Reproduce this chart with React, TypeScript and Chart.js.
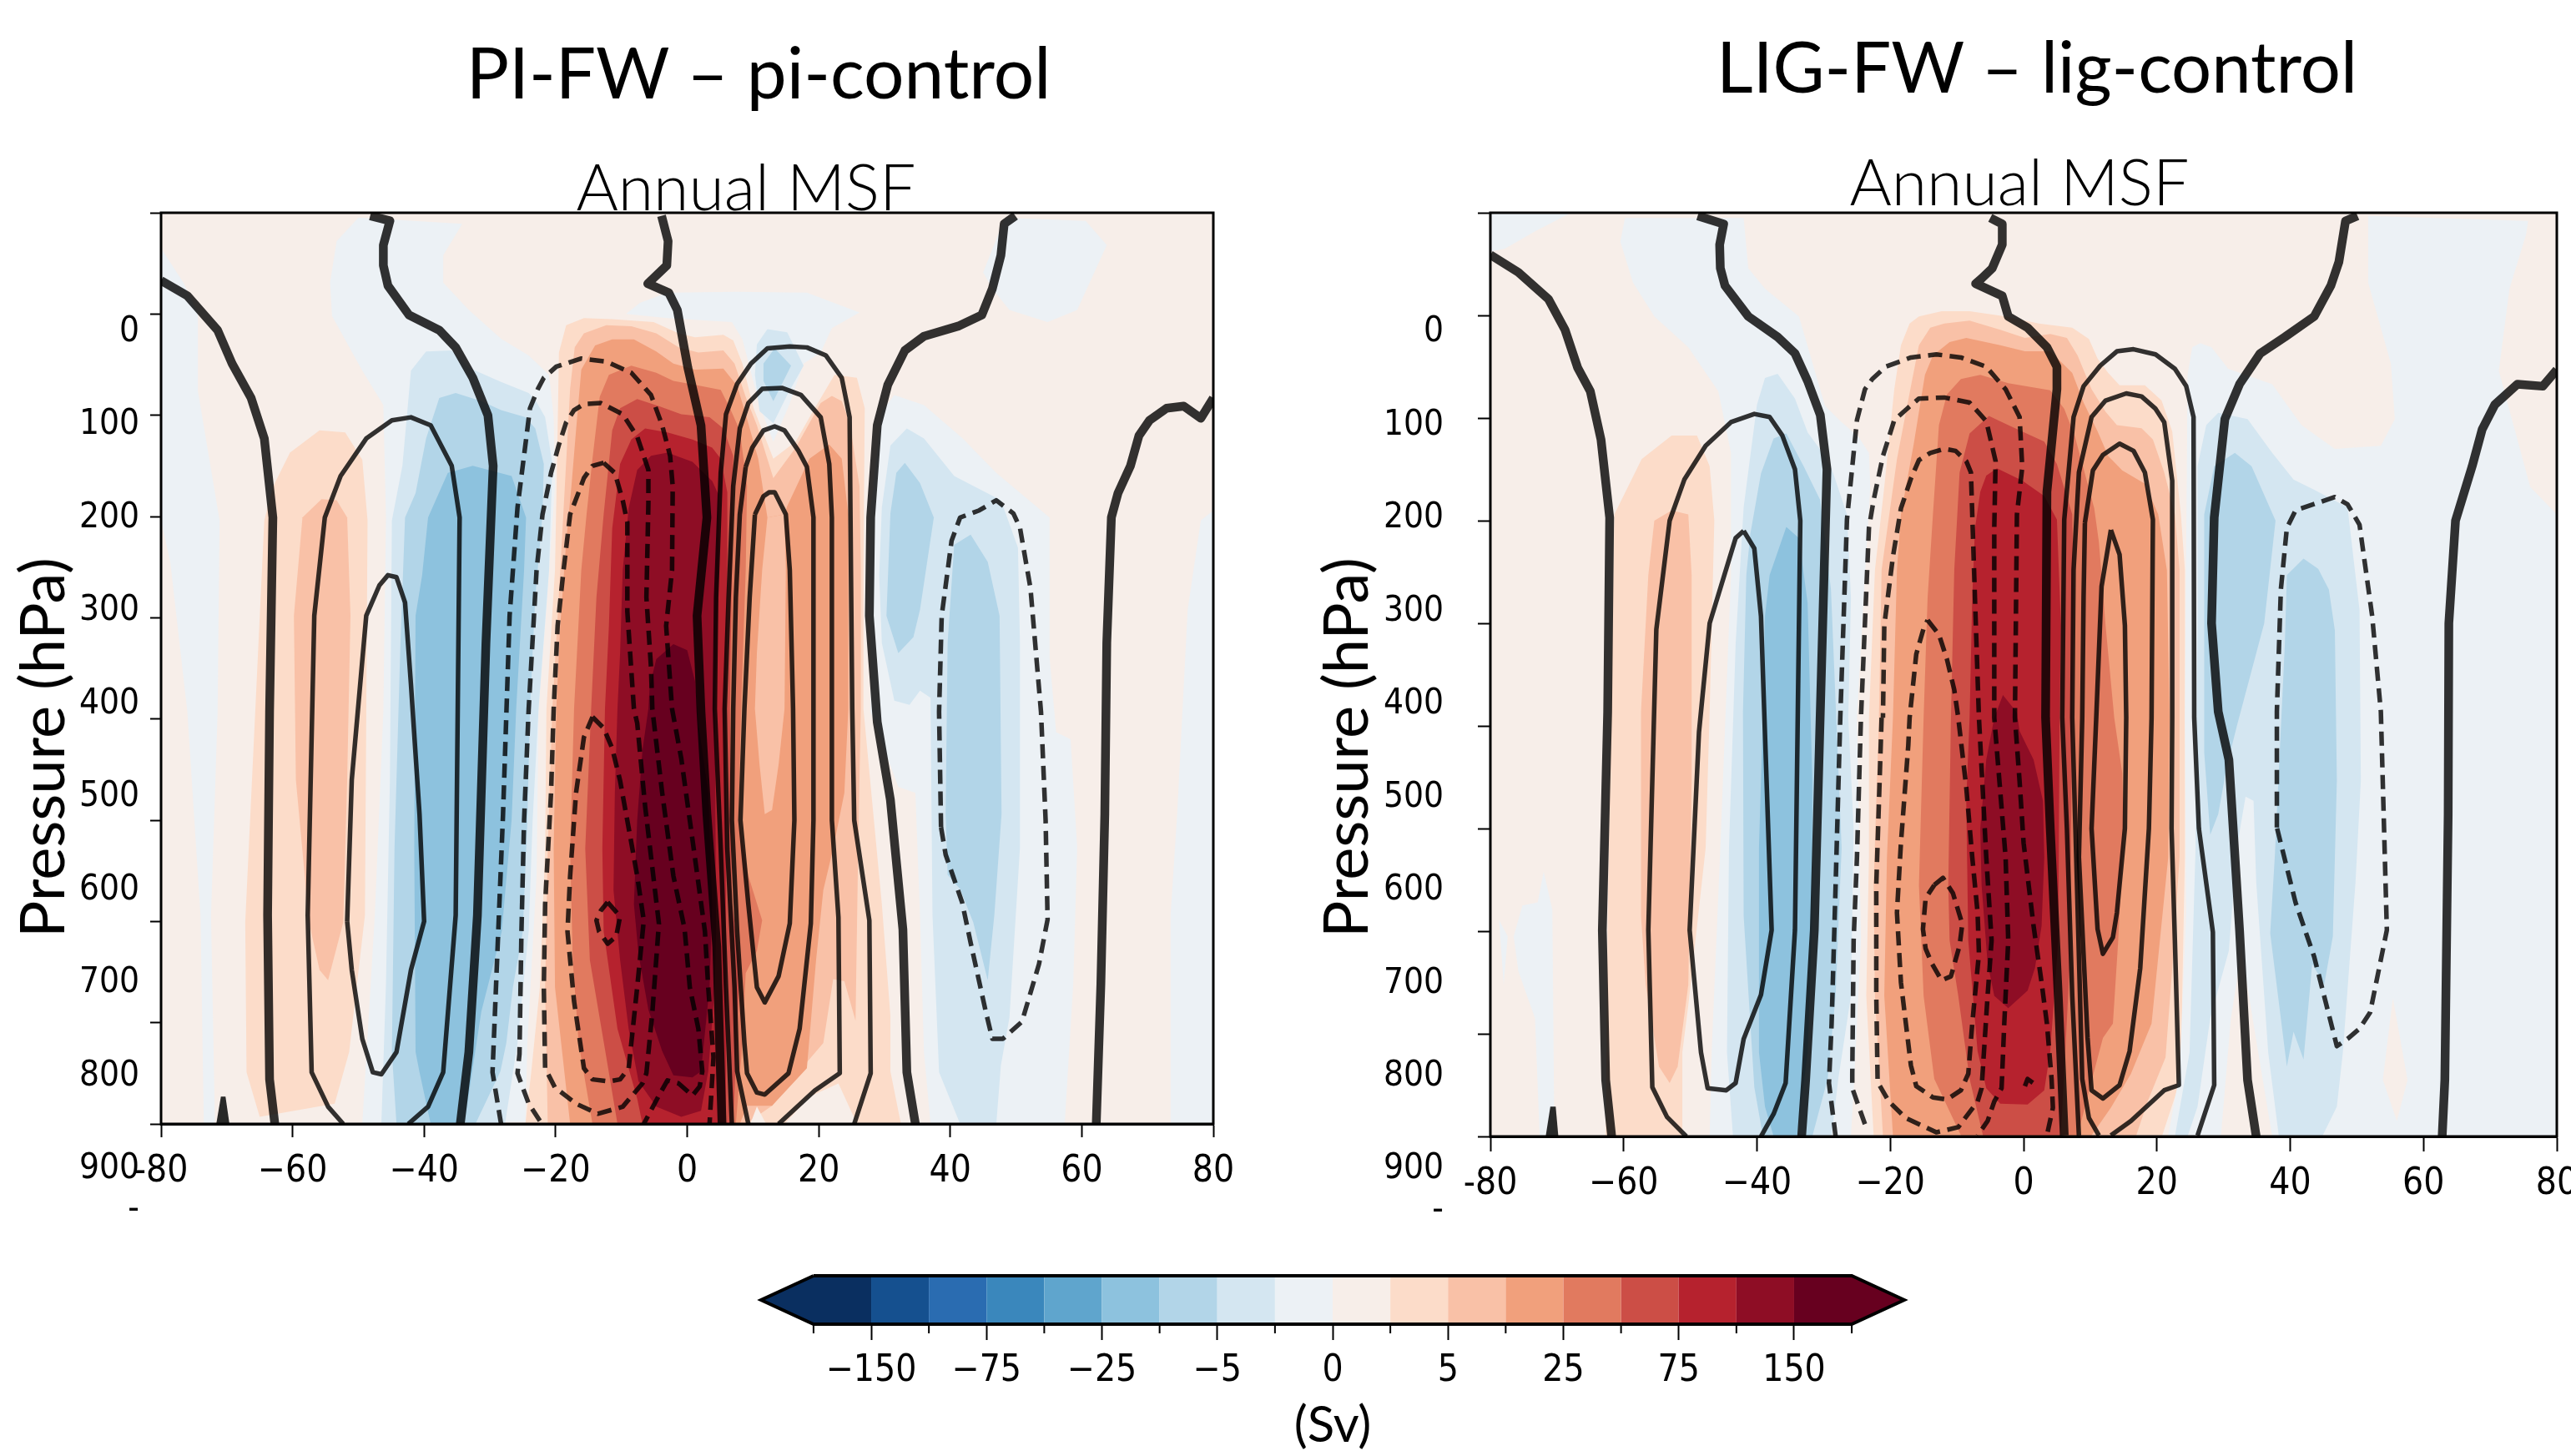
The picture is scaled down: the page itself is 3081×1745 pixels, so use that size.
import React, { useEffect, useRef } from 'react';
import { Chart, registerables } from 'chart.js';
Chart.register(...registerables);

type P = number[][];

// ---------- colour bands ----------
const bandColors = ['#0a2f60','#15508f','#2a6cb1','#3a87bc','#5fa5cd','#8dc2de','#b2d5e8','#d4e6f1','#ecf1f5','#f7eee9','#fcdcc9','#f9c1a7','#f1a07c','#e17a5f','#cc4e46','#b6222e','#8e0d25','#67001f'];
const colorbarLabels = ['', '−150', '', '−75', '', '−25', '', '−5', '', '0', '', '5', '', '25', '', '75', '', '150', ''];
const latTicks = [-80,-60,-40,-20,0,20,40,60,80];
const latTickLabels = ['-80','−60','−40','−20','0','20','40','60','80'];
const pressureLabelValues = [0,100,200,300,400,500,600,700,800,900,944];
const pressureLabels = ['0','100','200','300','400','500','600','700','800','900','-'];
const fullPanel: P = [[-80,0],[80,0],[80,900],[-80,900]];

// ---------- PI-FW : filled regions ----------
const pi10: P = [[-18.4,111],[-15.7,104],[-11.4,105],[-5.1,108],[-1.3,119],[1.2,123],[5.5,120.5],[7,126],[8.4,149],[10.1,193],[13.1,243],[16.5,226],[19.4,193],[22.4,160],[25.8,163],[27,193],[26.8,353],[26.8,490],[28,573],[29.6,683],[30.9,793],[30.9,848],[32.5,900],[-24.6,900],[-23.7,848],[-22.4,765],[-21.6,628],[-21.4,490],[-20.1,353],[-19.7,215],[-19.5,138]];
const pi11: P = [[-17.1,133],[-15.7,119],[-12.3,111],[-8.5,112],[-4.7,119],[-1.3,133],[1.7,138],[5.5,136],[7.2,149],[8.9,182],[10.6,210],[13.1,262],[16.5,232],[20.3,188],[22,181],[23.5,186],[24.7,207],[26.2,270],[26.4,353],[26.4,490],[26,628],[25.6,798],[23.9,759],[22.2,757],[20.7,820],[18.2,839],[12.9,882],[8.9,900],[-21.2,900],[-21.6,765],[-21.2,628],[-20.5,490],[-19.3,353],[-18.6,270],[-17.8,174]];
const pi12: P = [[-16.1,155],[-14,131],[-11.4,125],[-8.1,125],[-4.7,137],[-2.1,149],[1.2,155],[5.5,154],[7.6,171],[8.9,199],[10.8,243],[12.2,301],[14.8,298],[15.2,290],[18.6,243],[21.6,229],[23.5,243],[24.5,298],[24.5,490],[23.9,573],[22.2,628],[20.7,669],[19.6,738],[18.2,845],[12.9,882],[9.1,882],[8,900],[-17.8,900],[-20.1,765],[-20.3,628],[-19.9,490],[-19.3,408],[-18.4,325],[-17.6,270],[-16.9,215]];
const pi13: P = [[-13.3,182],[-11.9,160],[-8.5,151],[-4.7,158],[-2.1,166],[1.2,170],[5.1,175],[6.5,193],[8,215],[9.1,270],[8.9,353],[8.2,490],[7.8,600],[9.3,655],[11.4,699],[10.6,729],[8.9,751],[8.4,820],[7.4,900],[-14.4,900],[-16.5,820],[-17.4,738],[-17.8,628],[-17.2,490],[-16.1,353],[-15.3,298],[-14.4,243]];
const pi14: P = [[-11.4,215],[-10.2,193],[-7.6,184],[-4.3,191],[-0.9,199],[3.4,202],[5.5,213],[7,240],[6.8,353],[6.5,490],[6.8,683],[8,738],[7,900],[-10.6,900],[-12.3,834],[-14.8,738],[-15.5,628],[-14.6,490],[-13.8,380],[-12.7,298]];
const pi15: P = [[-10.2,248],[-8.5,224],[-6.4,213],[-3,217],[0.8,224],[3.8,232],[5.1,243],[6.1,276],[6.1,353],[5.9,490],[5.9,900],[-6.8,900],[-7.6,875],[-10.6,806],[-12.7,710],[-12.9,628],[-12.5,490],[-11.9,408],[-11.4,312]];
const pi16: P = [[-8.9,292],[-7.6,254],[-5.5,240],[-3,237],[0.8,246],[3.8,265],[4.8,279],[4.8,353],[4.2,490],[4.4,710],[4.2,765],[3.2,848],[2.1,887],[-0.9,893],[-4.7,883],[-7.4,858],[-8.9,806],[-10.2,738],[-11.2,669],[-11,573],[-10.6,490],[-10.2,435],[-9.8,353]];
const pi17: P = [[-5.7,468],[-4.7,441],[-2.1,426],[0,432],[1.2,463],[1.7,504],[3.2,573],[3.8,683],[3.4,765],[2.1,848],[0.8,854],[-2.1,852],[-3.8,828],[-5.9,787],[-7.4,732],[-8.1,683],[-7.6,600],[-6.8,531],[-5.9,490]];
const piCore11: P = [[12.2,301],[11.4,353],[10.6,435],[10.3,490],[11,545],[11.8,594],[12.9,590],[13.9,545],[14.8,490],[15,353],[14.8,298]];
const piPatch9a: P = [[23,860],[25.4,894],[25.4,900],[14.8,900],[18.6,873]];
const piPatch9b: P = [[10.6,883],[9.6,900],[12,900]];
const piWest10: P = [[-63,271],[-60.4,237],[-55.9,215],[-52,217],[-49.4,244],[-48.6,304],[-49,694],[-51.4,829],[-53.6,880],[-65,893],[-67,849],[-67.2,701],[-64.3,304]];
const piWest11: P = [[-58.5,301],[-55.6,283],[-53.3,284],[-51.7,301],[-51.2,398],[-51.7,560],[-52.3,701],[-54.6,758],[-55.9,748],[-57.5,701],[-59.5,560],[-59.8,398]];
const piPole8: P = [[-80,35],[-76.6,69],[-74.4,99],[-74.4,176],[-71.1,304],[-71.4,493],[-72.4,694],[-71.8,900],[-73.5,900],[-74,694],[-76,493],[-78.6,345],[-80,304]];
const piSouth8: P = [[-49.4,5],[-34.2,11],[-37.1,42],[-37.1,69],[-33.2,96],[-28.3,124.5],[-24.1,141],[-21,160],[-20.3,202],[-20.1,270],[-21,353],[-21.6,408],[-22.6,490],[-22.9,655],[-24.3,820],[-24.6,898],[-49.4,900],[-47.5,694],[-46.2,493],[-45.8,301],[-46.2,190],[-49.4,156],[-54,102],[-54.3,69],[-53.3,28],[-50,5]];
const piTop8: P = [[-9.3,100],[-7.2,89],[-3,79],[7.6,78],[18.2,79],[26.2,98.5],[22,114],[20.3,138],[17.7,149],[15.5,190],[13.1,226],[11,190],[8.4,125],[6.8,108],[-3,104]];
const piTop7: P = [[10.6,130],[12.2,115],[15.2,118],[17.7,151],[15.2,180],[13.1,208],[11,196],[10.3,160]];
const piTop6: P = [[11.6,149],[13.3,134],[15.8,151],[13.1,186],[11.6,166]];
const piSouth7: P = [[-42,156],[-39.7,137],[-35.8,136],[-33.2,153],[-28.3,167],[-24.1,178],[-22.9,187],[-21.6,202],[-20.5,248],[-21,353],[-22.6,490],[-23.5,600],[-24.1,710],[-25.8,820],[-27.7,900],[-46.5,900],[-45.8,762],[-45.2,560],[-44.9,304],[-43.3,250]];
const piSouth6: P = [[-39.7,223],[-37.7,183],[-35.2,178],[-31.3,186],[-28.3,195],[-24.6,202],[-23.1,213],[-21.8,248],[-22,298],[-23.1,380],[-23.9,490],[-24.3,600],[-25,710],[-26.5,765],[-27.5,820],[-28.4,848],[-32.2,900],[-44.2,900],[-44.9,829],[-44.5,627],[-43.6,425],[-42.9,301],[-41.3,277]];
const piSouth5: P = [[-39.4,301],[-36.4,257],[-32.6,250],[-26.7,260],[-24.5,301],[-24.8,353],[-26,490],[-26.7,600],[-28.2,710],[-31.3,789],[-33.9,900],[-39,900],[-40.7,849],[-41.3,829],[-41.5,627],[-41.3,398],[-40.3,358]];
const piNorth8: P = [[29.6,196],[31.5,180],[36,190],[41.9,223],[47,257],[55.1,301],[55.1,439],[56.1,513],[58.3,520],[59.3,627],[58.7,762],[57.4,900],[37,900],[36,829],[35.4,694],[34.7,573],[32.1,567],[27.9,493],[27.7,304]];
const piHigh8: P = [[48.3,5],[60.6,8],[63.8,32],[59.3,96],[54.8,108],[49,96],[46.4,75],[45,59]];
const piEdge8: P = [[80,294],[78.1,304],[76.1,392],[74.5,594],[73.5,694],[73.5,900],[80,900]];
const piNorth7: P = [[29.6,291],[30.9,230],[33.4,213],[36,223],[40.6,260],[47.7,284],[50.3,331],[50.6,425],[50.6,627],[49,795],[47.7,842],[47,900],[41.5,900],[38.3,849],[37.3,694],[37,479],[35.4,472],[33.8,486],[31.5,482],[29.6,425],[29.2,358]];
const piNorth6a: P = [[30.9,297],[31.8,257],[33.1,247],[35.4,267],[37.5,301],[35.4,392],[34.4,419],[32.1,435],[30.3,398]];
const piNorth6b: P = [[40.6,328],[43.1,318],[45.7,345],[47.5,398],[47.8,594],[46.7,694],[45.7,758],[43.5,701],[41.5,668],[39.6,654],[39.3,594],[39.6,425]];
const piSpike: P = [[-71.6,900],[-70.9,873],[-70.2,873],[-69.6,900]];

// ---------- PI-FW : contour lines ----------
const piZeroA: P = [[-80,67],[-76,82],[-71.4,116],[-69.2,149],[-66.3,183],[-64.3,223],[-63,301],[-63.5,493],[-63.8,694],[-63.5,856],[-62.7,900]];
const piZeroB: P = [[-48.2,3],[-45.2,8],[-46.2,32],[-46.2,52],[-45.5,72],[-42.3,101],[-37.7,116],[-35.2,133],[-32.6,163],[-30.3,200],[-29.5,250],[-30.6,425],[-31.9,694],[-33.2,829],[-34.5,900]];
const piZeroC: P = [[-3.9,3],[-2.9,28],[-3.1,52],[-6,70],[-2.8,79],[-1.5,96],[0.1,153],[2.1,210],[3,301],[1.5,398],[2.1,493],[3,594],[4.5,725],[5.3,900]];
const piZeroD: P = [[49.9,3],[48.2,11],[47.7,42],[46.4,75],[44.8,101],[41.2,112],[36,122],[33.1,136],[30.5,170],[28.9,210],[27.9,301],[27.7,398],[28.9,503],[30.9,580],[32.8,708],[33.4,849],[34.7,900]];
const piZeroE: P = [[80,183],[78.1,203],[75.5,191],[72.9,193],[70.3,205],[68.7,220],[67.4,250],[65.5,277],[64.5,301],[63.8,425],[63.5,594],[62.9,762],[62.2,900]];
const piSolidW1: P = [[-52.3,900],[-54.6,883],[-57.1,849],[-57.7,694],[-56.7,398],[-55.1,301],[-52.7,260],[-48.8,223],[-44.9,205],[-42,202],[-39,210],[-35.8,250],[-34.6,301],[-35.2,694],[-37.1,849],[-39.4,883],[-42.4,900]];
const piSolidW2: P = [[-51.7,700],[-51,560],[-48.8,398],[-46.8,368],[-45.5,358],[-44.2,360],[-42.9,385],[-42,466],[-40.7,594],[-40,700],[-42,748],[-44.2,829],[-46.5,851],[-47.8,849],[-49.4,816],[-51,748],[-51.7,700]];
const piSolid1: P = [[6.8,900],[5.9,765],[5.1,628],[4.2,490],[4.4,380],[5.1,257],[5.9,199],[7.6,169],[9.7,149],[12.2,134],[15.6,132],[18.2,133],[21.1,141],[23.5,163],[24.7,202],[24.9,353],[25.1,490],[25.4,600],[27.7,699],[27.9,850],[25.4,900]];
const piSolid2: P = [[9.3,900],[7.6,848],[7.2,765],[6.1,628],[5.7,490],[6.3,380],[7,270],[8,213],[9.3,188],[11.4,174],[14.4,173],[17.3,180],[20.3,202],[21.6,248],[22,301],[22,490],[22,600],[23,696],[23.2,850],[19.4,867],[13.9,900]];
const piSolid3: P = [[8.9,251],[9.9,232],[11.6,215],[13.3,211],[14.8,215],[16.9,235],[18.2,251],[19.2,301],[19.2,490],[19.2,600],[18.8,702],[17.1,806],[15.4,850],[11.8,871],[10.6,869],[9.1,850],[8.7,820],[7.6,710],[6.8,600],[7,490],[7.4,380],[8,298],[8.9,251]];
const piSolid4: P = [[10.3,298],[11.6,280],[12.5,276],[13.3,276],[15,298],[15.6,353],[16.1,490],[16.3,600],[15.6,702],[13.9,754],[11.8,780],[10.6,765],[9.3,683],[8.1,600],[8.7,490],[9.5,380],[10.3,298]];
const piDashA: P = [[-28.3,900],[-29.6,849],[-28,594],[-27,398],[-25.8,291],[-23.9,193],[-22.7,174],[-21.8,163],[-19.9,152],[-16.1,144],[-12.3,147],[-8.5,158],[-5.5,180],[-3.8,210],[-2.6,240],[-2.2,270],[-2.3,353],[-3.2,408],[-2.3,490],[-0.9,539],[0.8,619],[2.7,710],[3.2,765],[4,834],[3.4,900]];
const piDashB: P = [[-22.4,897],[-24.1,880],[-25.8,850],[-25.5,831],[-25.2,710],[-24.8,600],[-24.1,490],[-22.9,353],[-22,298],[-20.7,257],[-19.5,229],[-18.4,207],[-17.2,195],[-15.7,189],[-13.1,188],[-9.8,199],[-7.6,221],[-5.9,254],[-5.9,287],[-6.2,380],[-5.5,449],[-5.3,490],[-3.8,573],[-2.1,655],[-0.4,707],[0.4,765],[1.7,806],[2.3,848],[1.9,863],[0.8,872],[-1.3,860],[-3,857],[-4.3,872],[-6.6,900]];
const piDashC: P = [[-12.7,247],[-11,257],[-9.8,284],[-9.1,306],[-9.1,394],[-8.1,490],[-7.6,504],[-6.4,586],[-4.9,669],[-4.3,702],[-5.3,790],[-6.2,850],[-6.8,860],[-9.8,883],[-13.6,890],[-16.9,880],[-20.1,864],[-21.6,845],[-21.8,765],[-21.6,683],[-20.7,573],[-20.3,490],[-19.7,408],[-18.8,353],[-17.8,298],[-16.5,276],[-15.7,262],[-14.4,250],[-12.7,247]];
const piDashD: P = [[-14.4,498],[-12.7,509],[-11.4,529],[-10.2,561],[-8.5,622],[-7.6,655],[-6.6,699],[-7.6,765],[-8.9,845],[-10.2,856],[-11.9,858],[-14.4,856],[-15.7,845],[-17.2,779],[-18.2,710],[-17.8,655],[-16.9,573],[-15.7,518],[-14.4,498]];
const piDashE: P = [[-12.1,681],[-10.2,695],[-10.8,715],[-12.1,722],[-13.4,710],[-13.8,699],[-13.1,689],[-12.1,681]];
const piDashN: P = [[38.6,607],[38.3,493],[38.7,398],[40.2,324],[41.5,301],[44.4,294],[47,284],[49.6,297],[50.6,311],[52.2,371],[53.8,493],[54.5,600],[54.8,698],[53.5,742],[50.9,799],[48,816],[46.4,816],[45.4,789],[43.1,721],[41.8,681],[39.3,634],[38.6,607]];

// ---------- LIG-FW : filled regions ----------
const lig10: P = [[-18.4,129],[-17.1,108],[-15.7,101],[-12.3,96],[-8.1,96],[-2.7,101],[2.3,108],[7.3,112],[9.8,123],[11.1,142],[12.7,156],[14.4,168],[18.2,168],[20.7,183],[22.3,213],[23.6,294],[24.2,348],[24.2,492],[24.2,628],[23.8,763],[23.6,844],[20.8,899],[-22.5,899],[-23.6,763],[-23.2,628],[-23.2,492],[-22.3,348],[-20.9,267],[-19.4,172]];
const lig11: P = [[-15.7,129],[-14,112],[-11.9,108],[-8.1,105],[-3.5,114],[0.2,122],[4,118],[6.5,122],[8.1,139],[10.2,172],[12.3,194],[14,207],[17.7,210],[19.4,221],[21.1,253],[22.7,294],[23.4,348],[23.4,492],[23.4,628],[22.3,736],[21.3,823],[18.6,866],[16.9,899],[-21.1,899],[-22.3,763],[-22.5,655],[-21.7,492],[-21.3,348],[-19,240],[-16.9,169]];
const lig12: P = [[-14.8,158],[-13.6,139],[-11.1,126],[-8.6,122],[-3.5,129],[0.2,135],[4,135],[7.3,156],[9,185],[11.1,213],[12.7,237],[14.8,251],[18.2,264],[20.2,294],[21.5,348],[21.9,492],[21.7,628],[19.2,790],[16.1,839],[13.1,872],[10.2,899],[-19.6,899],[-20.9,763],[-20.5,628],[-19.6,492],[-19,348],[-18.4,294],[-16.5,226]];
const lig13: P = [[11.3,321],[12.3,402],[13.6,492],[14.8,546],[15,600],[14.2,709],[13.4,790],[11.9,804],[10.6,836],[8.1,899],[-9.4,899],[-13.4,844],[-15,763],[-15.7,655],[-15,492],[-14.4,375],[-13.6,294],[-12.7,207],[-11.5,177],[-9.4,162],[-6.5,158],[-2.3,166],[4,173],[6.1,191],[7.7,218],[10.6,288]];
const lig14: P = [[-8.1,215],[-5.2,198],[-2.3,207],[3.1,223],[5,245],[7.3,294],[7.5,375],[7.3,492],[6.9,736],[5.6,899],[-6.1,899],[-8.1,844],[-9.8,763],[-11.1,709],[-11.3,655],[-10.9,492],[-10.4,348],[-9.6,253]];
const lig15: P = [[-6.5,272],[-5.6,256],[-4,249],[-0.2,261],[3.1,276],[5,299],[5.6,402],[5.4,492],[5.2,709],[4,817],[3.1,855],[0.6,869],[-3.5,868],[-5.6,853],[-6.9,817],[-8.3,709],[-8.6,573],[-8.1,492],[-7.7,375],[-7.3,308]];
const lig16: P = [[-3.1,470],[-1,487],[-0.6,505],[1.5,533],[2.9,573],[3.1,628],[2.7,695],[1.7,736],[0.6,758],[-2.3,775],[-4.4,763],[-5.4,731],[-6.3,655],[-6.5,600],[-5.6,533],[-4.4,492]];
const ligWest10: P = [[-61.4,294],[-57.3,240],[-52.8,217],[-49,217],[-47.1,247],[-46.4,300],[-47.1,486],[-47.7,619],[-50.3,772],[-51.2,818],[-51.2,900],[-62.7,900],[-62.4,685]];
const ligWest11: P = [[-55.4,300],[-52.8,290],[-50.3,294],[-49.8,353],[-49.8,553],[-50.3,752],[-51.9,832],[-53.1,848],[-54.7,832],[-56.7,752],[-57.4,685],[-57.4,486],[-56.3,353]];
const ligCorner8: P = [[-80,0],[-67.9,0],[-73.3,18],[-77.8,35],[-80,38]];
const ligPole8a: P = [[-72,642],[-70.7,679],[-70.4,900],[-72.6,900],[-73.3,785],[-75.8,739],[-76.5,705],[-75.2,675],[-72.9,672]];
const ligPole8b: P = [[-78.7,689],[-77.4,705],[-78,752]];
const ligSouth8: P = [[-59.8,5],[-42,5],[-41.3,54],[-38.8,74],[-33.7,101],[-29.8,188],[-27.3,204],[-24.8,218],[-23.2,234],[-23,267],[-24,375],[-25,492],[-24.4,709],[-25.4,844],[-25.9,899],[-47.1,900],[-46.8,818],[-45.5,619],[-43.9,353],[-43.9,234],[-45.8,174],[-50.3,131],[-55.4,101],[-58.6,68],[-60.5,28]];
const ligSouth7: P = [[-40,187],[-38.8,161],[-36.9,157],[-34.3,181],[-32.4,214],[-29.8,237],[-28.6,253],[-26.5,294],[-25.9,375],[-26.3,492],[-25.5,600],[-25.9,763],[-27.8,844],[-28.8,899],[-43.6,900],[-44.5,818],[-44.2,619],[-43.2,420],[-42,287]];
const ligSouth6: P = [[-41,313],[-39.4,254],[-37.5,220],[-35.6,215],[-33,247],[-30.5,280],[-28.9,367],[-27.3,619],[-27.7,682],[-28.2,763],[-29.4,844],[-31.7,900],[-39.1,900],[-40.4,852],[-42,685],[-42.1,486],[-41.6,353]];
const ligSouth5: P = [[-38.8,393],[-38.1,353],[-35.6,306],[-33.7,317],[-32.4,380],[-31.7,553],[-31.7,685],[-32.4,818],[-34,900],[-37.5,900],[-38.8,871],[-39.7,818],[-39.7,619],[-39.1,486]];
const ligNorth8: P = [[51.7,3],[75.7,8],[75.4,21],[72.9,74],[71.3,154],[73.5,207],[76,267],[80,294],[80,900],[21.7,899],[23.4,839],[24.4,682],[24.2,492],[24.6,158],[25.3,131],[26.5,127],[28.2,131],[30.7,152],[37.3,167],[41.7,207],[46.7,230],[53.6,227],[55.7,201],[55.1,147],[51.7,68]];
const ligNorth7: P = [[26.1,247],[27.4,207],[29.2,195],[33.6,201],[37.3,234],[40.5,260],[43.6,270],[48.6,287],[50.4,387],[50.6,553],[49.8,652],[47.9,818],[47,871],[44.8,900],[38.3,900],[36.7,818],[34.9,652],[34.5,573],[33.3,569],[32,619],[30.8,719],[28,785],[26.1,871],[24.6,900],[22.7,900],[24.9,818],[25.8,619],[26.1,387]];
const ligNorth6a: P = [[27.1,294],[28.6,247],[31.7,234],[34.2,247],[37.8,300],[36.1,400],[32,500],[30.5,539],[29.2,586],[28,606],[27.1,526]];
const ligNorth6b: P = [[39.5,353],[42,337],[44.2,347],[45.8,367],[46.7,407],[47,553],[46.4,705],[45.1,752],[43.3,732],[42,825],[40.5,798],[39.5,832],[37,702],[37.7,626],[39.2,420]];
const ligPatch9a: P = [[29.6,900],[31.1,785],[32.7,719],[35.2,818],[37.3,900]];
const ligPatch9b: P = [[53.9,845],[55.4,765],[57.6,845],[56,885]];
const ligSpike: P = [[-71.7,900],[-71,871],[-70.2,871],[-69.8,900]];

// ---------- LIG-FW : contour lines ----------
const ligZeroA: P = [[-80,41],[-75.8,58],[-71.3,84],[-68.8,114],[-66.9,151],[-65,174],[-63.4,221],[-62.1,297],[-62.4,486],[-63.2,699],[-62.7,845],[-61.8,900]];
const ligZeroB: P = [[-48.9,3],[-45,11],[-45.6,31],[-45.5,54],[-44.8,71],[-41.3,101],[-36.9,121],[-34.3,137],[-32.4,164],[-30.5,197],[-29.5,250],[-30.5,486],[-31.4,699],[-32.7,845],[-33.3,900]];
const ligZeroC: P = [[-5,5],[-3.2,11],[-3.2,31],[-4.7,54],[-6.3,64],[-7.2,69],[-3.2,81],[-2.3,101],[0.6,112],[3.5,131],[5,150],[5,172],[3.5,272],[3.3,492],[4,600],[5.2,763],[6.1,899]];
const ligZeroD: P = [[50.1,3],[48.3,8],[47.3,48],[46.1,71],[43.6,101],[39.2,121],[35.5,137],[32.4,167],[30.2,201],[28.6,297],[28.2,400],[29.2,486],[30.8,533],[32.4,699],[33.6,845],[34.9,900]];
const ligZeroE: P = [[80,153],[77.9,169],[74.1,167],[70.7,187],[68.8,211],[67.3,247],[64.8,300],[63.8,400],[63.7,586],[63.2,845],[62.8,900]];
const ligSolidW1: P = [[-50.6,900],[-53.5,881],[-55.7,852],[-56.3,699],[-55.1,406],[-53.1,300],[-50.9,260],[-47.7,227],[-43.9,204],[-40.4,196],[-38.1,199],[-36.2,217],[-34.3,250],[-33.5,300],[-34.3,699],[-35.7,848],[-37.5,878],[-39.4,900]];
const ligSolidW2: P = [[-42,310],[-40.4,327],[-39.4,393],[-37.8,699],[-39.4,762],[-42,805],[-43.2,848],[-44.6,855],[-47.4,853],[-48.4,818],[-50.1,699],[-48.7,506],[-47.1,400],[-43.2,317],[-42,310]];
const ligSolid1: P = [[26.1,899],[28.6,850],[28.4,701],[26.3,600],[25.6,492],[25.5,199],[24.4,169],[22.7,152],[19.8,138],[16.5,133],[14,135],[11.5,149],[9,169],[7.5,199],[6.1,299],[5.8,492],[6.5,600],[7.3,763],[8.3,899]];
const ligSolid2: P = [[11.3,899],[9.8,882],[8.8,844],[7.9,628],[7.3,492],[7.5,348],[8.3,253],[10.2,199],[12.3,183],[15.4,176],[17.7,179],[19.8,191],[21.1,204],[22.3,261],[22.3,492],[22.2,600],[22.7,709],[23.3,850],[21.1,855],[16.1,885],[13.1,899]];
const ligSolid3: P = [[9.2,302],[10.4,251],[11.9,236],[14.4,225],[16.5,232],[18.2,253],[19.4,299],[19.2,492],[18.8,600],[17.5,736],[15.9,817],[14.4,850],[11.9,863],[10.2,855],[9.6,804],[8.3,628],[8.8,492],[9,375],[9.2,302]];
const ligSolid4: P = [[13.1,309],[14.4,333],[15.2,402],[15.4,492],[15.2,600],[14,682],[13.4,706],[11.9,722],[11.1,698],[10.2,600],[10.9,492],[11.7,364],[13.1,309]];
const ligDashA: P = [[-28.2,900],[-29.2,848],[-28.8,790],[-28.2,655],[-27.5,492],[-26.5,299],[-25,202],[-23.8,172],[-22.7,162],[-20.7,150],[-16.9,141],[-13.1,138],[-9.4,141],[-5.6,150],[-2.7,172],[-0.6,199],[-0.2,248],[-1,294],[-1.3,492],[-0.6,554],[0,614],[1.5,695],[2.7,750],[3.5,790],[4.2,844],[4.4,872],[3.5,899]];
const ligDashB: P = [[-23.8,888],[-25,866],[-25.7,853],[-25.7,839],[-25.5,709],[-25,628],[-24.4,492],[-23.2,307],[-22.5,280],[-21.1,237],[-19.4,202],[-17.5,191],[-15.7,181],[-11.9,180],[-8.1,185],[-5.6,203],[-4.2,242],[-4.4,307],[-4.4,492],[-2.7,628],[-2.3,709],[-2.9,790],[-3.3,853],[-4.4,866],[-5.4,885],[-6.9,899]];
const ligDashC: P = [[-21.3,492],[-22.1,655],[-22.1,763],[-21.9,847],[-20.2,866],[-17.7,882],[-13.1,896],[-9.8,891],[-6.9,866],[-6.3,853],[-5.4,763],[-4.8,709],[-5.6,628],[-6.7,492],[-7.3,375],[-7.7,294],[-7.9,253],[-8.6,242],[-10.2,232],[-11.9,230],[-14,234],[-15.7,241],[-16.9,259],[-18.4,288],[-19.6,335],[-20.9,402],[-21.1,492]];
const ligDashD: P = [[-14.4,397],[-12.7,411],[-11.5,435],[-10.4,465],[-9.8,492],[-8.6,560],[-7.7,628],[-6.9,682],[-6.7,722],[-7.7,790],[-8.3,839],[-9.4,855],[-11.5,864],[-13.6,862],[-16.1,851],[-16.9,831],[-18.4,750],[-19,682],[-18.4,614],[-17.3,519],[-17.1,492],[-16.1,430],[-15,405],[-14.4,397]];
const ligDashE: P = [[-13.4,655],[-12.1,648],[-10.6,663],[-9.2,693],[-9.6,714],[-10.9,744],[-12.3,748],[-13.8,731],[-14.7,717],[-15.1,698],[-14.7,668],[-13.4,655]];
const ligDashF: P = [[0.2,851],[0.6,844],[2.1,851]];
const ligDashN: P = [[38,599],[38,486],[38.6,367],[39.5,307],[40.8,290],[46.7,277],[48.6,284],[50.4,304],[52.3,393],[53.6,486],[54.5,699],[52,779],[50.4,795],[48.6,805],[47,812],[43.6,725],[40.8,672],[38,599]];

// ---------- assembled lists ----------
const spikeColor = 'rgba(30,30,30,0.95)';
const piFills: [number | string, P][] = [[9,fullPanel],[10,pi10],[11,pi11],[12,pi12],[13,pi13],[14,pi14],[15,pi15],[16,pi16],[17,pi17],[11,piCore11],[9,piPatch9a],[9,piPatch9b],[10,piWest10],[11,piWest11],[8,piPole8],[8,piSouth8],[8,piTop8],[7,piTop7],[6,piTop6],[7,piSouth7],[6,piSouth6],[5,piSouth5],[8,piHigh8],[8,piEdge8],[8,piNorth8],[7,piNorth7],[6,piNorth6a],[6,piNorth6b],[spikeColor,piSpike]];
const piThick = [piZeroA,piZeroB,piZeroC,piZeroD,piZeroE];
const piSolid = [piSolidW1,piSolidW2,piSolid1,piSolid2,piSolid3,piSolid4];
const piDash = [piDashA,piDashB,piDashC,piDashD,piDashE,piDashN];
const ligFills: [number | string, P][] = [[9,fullPanel],[10,lig10],[11,lig11],[12,lig12],[13,lig13],[14,lig14],[15,lig15],[16,lig16],[10,ligWest10],[11,ligWest11],[8,ligCorner8],[8,ligPole8a],[8,ligPole8b],[8,ligSouth8],[7,ligSouth7],[6,ligSouth6],[5,ligSouth5],[8,ligNorth8],[7,ligNorth7],[6,ligNorth6a],[6,ligNorth6b],[9,ligPatch9a],[9,ligPatch9b],[spikeColor,ligSpike]];
const ligThick = [ligZeroA,ligZeroB,ligZeroC,ligZeroD,ligZeroE];
const ligSolid = [ligSolidW1,ligSolidW2,ligSolid1,ligSolid2,ligSolid3,ligSolid4];
const ligDash = [ligDashA,ligDashB,ligDashC,ligDashD,ligDashE,ligDashF,ligDashN];

const lineColor = 'rgba(0,0,0,0.8)';
const tickFont = '"DejaVu Sans Condensed", "DejaVu Sans"';
const toXY = (p: P) => p.map(([x, y]) => ({ x, y }));
const clearPadding = (s: any) => { s.paddingLeft = 0; s.paddingRight = 0; s.paddingTop = 0; s.paddingBottom = 0; };

const polygonPlugin = {
  id: 'polygons',
  beforeDatasetsDraw(chart: any) {
    const { ctx, chartArea: a } = chart;
    ctx.save();
    ctx.beginPath();
    ctx.rect(a.left, a.top, a.width, a.height);
    ctx.clip();
    chart.data.datasets.forEach((d: any, i: number) => {
      if (!d.polygonColor) return;
      const pts = chart.getDatasetMeta(i).data;
      ctx.beginPath();
      pts.forEach((p: any, j: number) => (j ? ctx.lineTo(p.x, p.y) : ctx.moveTo(p.x, p.y)));
      ctx.closePath();
      ctx.fillStyle = d.polygonColor;
      ctx.fill();
    });
    ctx.restore();
  },
  afterDatasetsDraw(chart: any) {
    if (!chart.options.plugins.polygons?.frame) return;
    const { ctx, chartArea: a } = chart;
    ctx.save();
    ctx.strokeStyle = '#000';
    ctx.lineWidth = 3;
    ctx.strokeRect(a.left, a.top, a.width, a.height);
    ctx.restore();
  },
};

const fillSet = (f: [number | string, P]) => ({
  data: toXY(f[1]), showLine: false, pointRadius: 0, pointHoverRadius: 0,
  polygonColor: typeof f[0] === 'number' ? bandColors[f[0]] : f[0],
});
const lineSet = (p: P, width: number, dash: number[]) => ({
  data: toXY(p), showLine: true, fill: false, tension: 0, pointRadius: 0, pointHoverRadius: 0,
  borderColor: lineColor, borderWidth: width, borderDash: dash, borderJoinStyle: 'round',
});

function panelConfig(o: any) {
  return {
    type: 'scatter',
    data: {
      datasets: [
        ...o.thick.map((p: P) => lineSet(p, 10.5, [])),
        ...o.solid.map((p: P) => lineSet(p, 5.5, [])),
        ...o.dash.map((p: P) => lineSet(p, 5.5, [17, 9])),
        ...o.fills.map(fillSet),
      ],
    },
    options: {
      responsive: false, animation: false, events: [],
      layout: { padding: { left: 0, top: o.top, right: o.right, bottom: 0 } },
      plugins: { legend: { display: false }, tooltip: { enabled: false }, title: { display: false }, polygons: { frame: true } },
      scales: {
        x: {
          type: 'linear', min: -80, max: 80,
          afterBuildTicks: (s: any) => { s.ticks = latTicks.map((value) => ({ value })); },
          afterFit: (s: any) => { s.height = o.xHeight; clearPadding(s); },
          grid: { drawOnChartArea: false, tickLength: o.xTick, tickColor: '#000', tickWidth: 2 },
          border: { color: '#000', width: 3 },
          ticks: {
            autoSkip: false, maxRotation: 0, minRotation: 0, color: '#000', padding: o.xPad,
            font: { family: tickFont, size: 44 },
            callback: (v: number) => latTickLabels[latTicks.indexOf(v)],
          },
        },
        y: {
          type: 'linear', reverse: true, min: 0, max: 900, weight: 0,
          afterFit: (s: any) => { s.width = o.yTick; clearPadding(s); },
          grid: { drawOnChartArea: false, tickLength: o.yTick, tickColor: '#000', tickWidth: 2 },
          border: { color: '#000', width: 3 },
          ticks: { stepSize: 100, display: false },
        },
        yLabels: {
          type: 'linear', position: 'left', reverse: true, min: o.labelMin, max: o.labelMax, weight: 1,
          afterBuildTicks: (s: any) => { s.ticks = pressureLabelValues.map((value) => ({ value })); },
          afterFit: (s: any) => { s.width = o.yLabelWidth; clearPadding(s); },
          grid: { display: false, drawTicks: false },
          border: { display: false },
          ticks: {
            autoSkip: false, color: '#000', padding: o.yPad,
            font: { family: tickFont, size: 42 },
            callback: (v: number) => pressureLabels[pressureLabelValues.indexOf(v)],
          },
        },
      },
    },
    plugins: [polygonPlugin],
  };
}

const piConfig = { thick: piThick, solid: piSolid, dash: piDash, fills: piFills, top: 55, right: 86, xHeight: 153, xTick: 16, xPad: 15, yTick: 13, yLabelWidth: 180, yPad: 13, labelMin: -128.4, labelMax: 851.5 };
const ligConfig = { thick: ligThick, solid: ligSolid, dash: ligDash, fills: ligFills, top: 55, right: 17, xHeight: 138, xTick: 18, xPad: 13, yTick: 15, yLabelWidth: 231, yPad: 41, labelMin: -128.4, labelMax: 864.5 };

// ---------- colour bar ----------
const barBands: P[] = bandColors.map((_, i) => {
  if (i === 0) return [[-0.91,0.5],[0,1],[1,1],[1,0],[0,0]];
  if (i === 17) return [[17,0],[17,1],[18,1],[18.91,0.5],[18,0]];
  return [[i,0],[i,1],[i+1,1],[i+1,0]];
});
const barOutline: P = [[0,1],[18,1],[18.91,0.5],[18,0],[0,0],[-0.91,0.5],[0,1]];
const barTickPositions = [0,1,2,3,4,5,6,7,8,9,10,11,12,13,14,15,16,17,18];
const barMinorPositions = [0,2,4,6,8,10,12,14,16,18];

function barConfig() {
  return {
    type: 'scatter',
    data: {
      datasets: [
        { data: toXY(barOutline), showLine: true, tension: 0, pointRadius: 0, borderColor: '#000', borderWidth: 4, clip: 30 },
        ...barMinorPositions.map((x) => ({ data: toXY([[x,0],[x,-0.19]]), showLine: true, pointRadius: 0, borderColor: '#000', borderWidth: 2, clip: 30 })),
        ...barBands.map((p, i) => fillSet([i, p])),
      ],
    },
    options: {
      responsive: false, animation: false, events: [],
      layout: { padding: { left: 32, top: 29, right: 18, bottom: 0 } },
      plugins: { legend: { display: false }, tooltip: { enabled: false } },
      scales: {
        x: {
          type: 'linear', min: -0.91, max: 18.91,
          afterBuildTicks: (s: any) => { s.ticks = barTickPositions.map((value) => ({ value })); },
          afterFit: (s: any) => { s.height = 158; clearPadding(s); },
          grid: {
            drawOnChartArea: false, tickLength: 19, tickWidth: 2,
            tickColor: (c: any) => (colorbarLabels[c.tick?.value] ? '#000' : 'rgba(0,0,0,0)'),
          },
          border: { display: false },
          ticks: {
            autoSkip: false, maxRotation: 0, minRotation: 0, color: '#000', padding: 11,
            font: { family: tickFont, size: 44 },
            callback: (v: number) => colorbarLabels[v],
          },
          title: { display: true, text: '(Sv)', color: '#000', font: { family: 'Lato', size: 60 }, padding: { top: 0, bottom: 0 } },
        },
        y: { type: 'linear', min: 0, max: 1, display: false },
      },
    },
    plugins: [polygonPlugin],
  };
}

function ChartCanvas({ config, left, top, width, height }: any) {
  const ref = useRef<HTMLCanvasElement>(null);
  useEffect(() => {
    const chart = new Chart(ref.current as any, config() as any);
    return () => chart.destroy();
  }, []);
  return <canvas ref={ref} width={width} height={height} style={{ position: 'absolute', left, top, width, height }} />;
}

function Label({ text, cx, cy, size, family, rotate, scaleX = 1, scaleY = 1, weight = 400 }: any) {
  return (
    <div style={{
      position: 'absolute', left: cx, top: cy, whiteSpace: 'nowrap', color: '#000', fontFamily: family, fontSize: size, fontWeight: weight, lineHeight: 1,
      transform: `translate(-50%,-50%) rotate(${rotate || 0}deg) scale(${scaleX},${scaleY})`,
    }}>{text}</div>
  );
}

export default function App() {
  useEffect(() => { document.body.style.margin = '0'; document.body.style.background = '#fff'; }, []);
  return (
    <div style={{ position: 'relative', width: 3081, height: 1745, overflow: 'hidden', background: '#fff' }}>
      <ChartCanvas config={() => panelConfig(piConfig)} left={0} top={200} width={1540} height={1300} />
      <ChartCanvas config={() => panelConfig(ligConfig)} left={1540} top={200} width={1541} height={1300} />
      <ChartCanvas config={barConfig} left={880} top={1500} width={1420} height={245} />
      <Label text="PI-FW – pi-control" cx={909} cy={86} size={85.5} family='Lato' />
      <Label text="LIG-FW – lig-control" cx={2441} cy={78} size={85} family='Lato' />
      <Label text="Annual MSF" cx={894} cy={222} size={77} family='Lato' weight={300} />
      <Label text="Annual MSF" cx={2420} cy={216} size={77} family='Lato' weight={300} />
      <Label text="Pressure (hPa)" cx={49} cy={896} size={74} family='Lato' rotate={-90} />
      <Label text="Pressure (hPa)" cx={1611} cy={896} size={74} family='Lato' rotate={-90} />
    </div>
  );
}
